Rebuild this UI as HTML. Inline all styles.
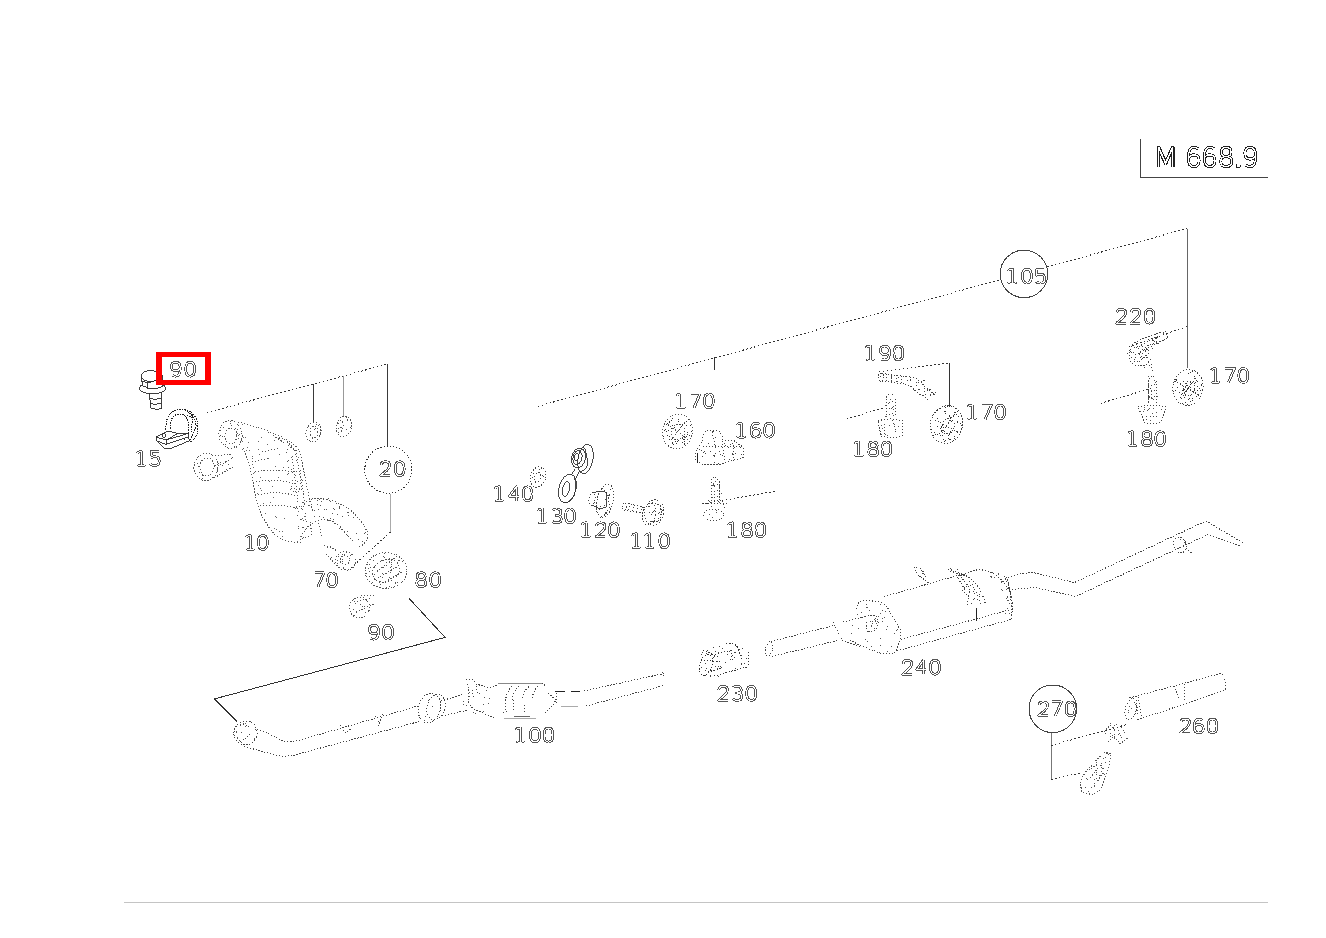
<!DOCTYPE html>
<html><head><meta charset="utf-8"><style>
html,body{margin:0;padding:0;background:#fff;width:1326px;height:938px;overflow:hidden}
svg{display:block}
.d{fill:none;stroke-width:1;stroke-dasharray:1.6 2.4}
.dd{fill:none;stroke-width:1;stroke-dasharray:1.2 2}
.s{fill:none;stroke-width:1}
.p{fill:none;stroke-width:1;stroke-dasharray:1.3 1.7}
</style></head><body>
<svg width="1326" height="938" viewBox="0 0 1326 938" shape-rendering="crispEdges">
<defs><path id="g0" d="M5.8 1.3 Q10.3 1.3 10.3 8.3 Q10.3 15.3 5.8 15.3 Q1.3 15.3 1.3 8.3 Q1.3 1.3 5.8 1.3 Z"/><path id="g1" d="M0.8 3.2 Q1 1.7 3 1.5 L4.6 1.3 V15.3 M1 14.2 Q1.2 15.3 2.6 15.3 H6.6 Q8 15.3 8.2 14.2"/><path id="g2" d="M1.5 4.6 Q1.8 1.3 5.8 1.3 Q10.2 1.3 10.2 5 Q10.2 7.4 7.2 10 L1.3 15.3 H10.3"/><path id="g3" d="M1.6 2.7 Q3 1.3 5.6 1.3 Q9.9 1.3 9.9 4.7 Q9.9 7.9 5.3 7.9 Q10.3 7.9 10.3 11.6 Q10.3 15.3 5.8 15.3 Q2.7 15.3 1.3 13.7"/><path id="g4" d="M8 15.3 V1.3 L1.3 10.6 H10.5"/><path id="g5" d="M9.8 1.3 H2.4 L2 7.6 Q3.8 6.4 6 6.4 Q10.3 6.4 10.3 10.8 Q10.3 15.3 5.8 15.3 Q2.8 15.3 1.3 13.6"/><path id="g6" d="M9.4 2.4 Q8.2 1.3 6 1.3 Q1.3 1.3 1.3 9 Q1.3 15.3 5.8 15.3 Q10.3 15.3 10.3 11 Q10.3 6.8 5.8 6.8 Q2.6 6.8 1.3 9.4"/><path id="g7" d="M1.3 1.3 H10.3 L4.3 15.3"/><path id="g8" d="M5.8 1.3 Q9.8 1.3 9.8 4.7 Q9.8 8 5.8 8 Q1.8 8 1.8 4.7 Q1.8 1.3 5.8 1.3 Z M5.8 8 Q10.3 8 10.3 11.65 Q10.3 15.3 5.8 15.3 Q1.3 15.3 1.3 11.65 Q1.3 8 5.8 8 Z"/><path id="g9" d="M2.2 14.2 Q3.4 15.3 5.6 15.3 Q10.3 15.3 10.3 7.6 Q10.3 1.3 5.8 1.3 Q1.3 1.3 1.3 5.6 Q1.3 9.8 5.8 9.8 Q9 9.8 10.3 7.2"/><path id="gM" d="M1.3 15.3 V1.3 L5.8 13 L10.3 1.3 V15.3"/><path id="gdot" d="M4.6 14.3 V15.3 H6 V14.3 Z"/></defs>
<g stroke="#333">
<!-- title box -->
<path class="s" d="M1140.5 139 V177.5 H1268" stroke="#444"/>
<!-- bottom rule -->
<line x1="124" y1="902.5" x2="1268" y2="902.5" stroke="#c4c4c4" stroke-width="1"/>
<!-- leader lines -->
<path class="d" d="M206.8 412.5 L388 364"/>
<path class="s" d="M313.6 384.4 V422.5 M387.5 364 V446.4" stroke="#3a3a3a"/><path class="s" d="M343.7 376.3 V416.2" stroke="#999"/>
<circle cx="388.4" cy="469.6" r="23.6" class="dd"/>
<path class="s" d="M390.5 494 V532" stroke="#aaa"/>
<path class="d" d="M390.5 532 L350.8 568"/>
<path class="s" d="M409.2 598.5 L445.1 637.4 L214.5 698.9 L236.8 721.5" stroke="#333"/>
<path class="d" d="M537.9 406.3 L1187.3 228.5"/>
<path class="s" d="M714.5 356.5 V369.8"/>
<circle cx="1024" cy="273.9" r="23.8" fill="#fff" stroke="#444" stroke-width="1"/>
<path class="s" d="M1187.3 228.5 V368.2" stroke="#666"/>
<path class="d" d="M1186.9 326.6 L1128 347"/>
<path class="d" d="M1100.5 403.4 L1150.6 388.5"/>
<path class="s" d="M949.7 363.1 V406.9"/>
<path class="d" d="M878.8 371.8 L949.7 363"/>
<path class="d" d="M846.7 418.8 L884.8 407.6"/>
<path class="d" d="M702 504 L775 491.3"/>
<circle cx="1052.8" cy="708.8" r="23.8" fill="#fff" stroke="#444" stroke-width="1"/>
<path class="s" d="M1051.2 732.7 V779.5" stroke="#777"/>
<path class="d" d="M1051 745.4 L1126.2 724.7"/>
<path class="d" d="M1051 779.5 L1081.4 772.8"/>

<!-- bolt 90 (top-left) -->
<g fill="#fff" stroke="#2a2a2a" stroke-width="0.9">
<path d="M149.5 392 L150.5 408 Q156 411 161.5 408.5 L161.5 391"/>
<path d="M150 398.5 Q156 400.5 161 398 M150.3 403.5 Q156 405.5 161.3 403" fill="none"/>
<ellipse cx="152.5" cy="388.2" rx="13.2" ry="5.5"/>
<path d="M141.5 377 L142.5 386 Q153 391.5 163 386 L162 375 Z"/>
<ellipse cx="150.5" cy="376" rx="9" ry="5.5"/>
<path d="M142 381 L147 383 L158 380 M147 383 L148 389" fill="none"/>
</g>
<!-- clamp 15 -->
<g fill="none" stroke="#222" stroke-width="1" stroke-dasharray="1.5 1">
<path d="M166 430 Q165 411 180 409 Q197 410 198 427 Q198 438 190 442"/>
<path d="M170 429 Q170 414 180 414 Q189 415 189 428 Q189 438 183 440"/>
<path d="M185 410.5 Q195 415 196 426 M187 415 L194 419 M190 440 L194 432 L197 424"/>
<path d="M193 414 L191 432"/>
</g>
<g fill="#fff" stroke="#2a2a2a" stroke-width="0.9">
<path d="M156 437 L156 440.5 L166 444.5 L188 437 L188 433.5 L178 433.5 Z"/>
<path d="M156 437 L168 431 L178 433.5 L166 440 Z"/>
<path d="M166 440 L188 433.5 M166 440 V444.5" fill="none"/>
<path d="M158 442 L164 448 L172 448 L190 440.5 L188 437" fill="none"/>
<circle cx="164" cy="435.5" r="1.7" fill="none"/>
</g>
<!-- nut left of 10 -->
<g class="p" stroke="#555">
<ellipse cx="206" cy="467" rx="12" ry="13.5" transform="rotate(10 206 467)"/>
<ellipse cx="207" cy="467" rx="7" ry="9" transform="rotate(10 207 467)"/>
<path d="M212 456 L232 454 M214 478 L233 467 M220 465 L233 458"/>
</g>
<!-- part 10 manifold -->
<g class="p" stroke="#555">
<ellipse cx="230.5" cy="434.5" rx="11.5" ry="14" transform="rotate(-10 230.5 434.5)"/>
<ellipse cx="231" cy="436" rx="6" ry="8"/>
<path d="M238 422 Q262 428 280 436 Q296 444 300 452 L308 492 L313 512"/>
<path d="M243 448 Q249 462 252 477 L257 503 Q262 520 275 535 Q288 544 302 542"/>
<path d="M268 432 L298 452 M279 437 Q289 441 296 452 L302 490"/>
<path d="M255 472 Q275 468 292 472 M256 482 Q276 478 294 484 M258 495 Q278 490 296 496 M260 506 Q280 504 298 508"/>
<path d="M262 452 L280 448 M252 462 L270 458"/>
<path d="M300 470 L305 505 M292 456 L298 500"/>
</g>
<!-- elbow -->
<g class="p" stroke="#555">
<path d="M302 510 Q305 500 312 499 Q330 497 348 508 Q362 520 368 532 Q368 543 359 547"/>
<path d="M300 540 Q306 525 315 522 Q328 516 339 526 Q348 536 356 545"/>
<path d="M310 522 L312 535 M318 520 L322 538"/>
</g>
<!-- small nuts hanging -->
<g class="p" stroke="#555">
<ellipse cx="313.5" cy="432" rx="7.5" ry="10" transform="rotate(10 313.5 432)"/>
<ellipse cx="314" cy="432" rx="4" ry="6"/>
<ellipse cx="344" cy="426.5" rx="7.5" ry="10.5" transform="rotate(10 344 426.5)"/>
<path d="M340 420 Q346 424 341 432"/>
</g>
<!-- 70 / 80 / 90 -->
<g class="p" stroke="#555">
<ellipse cx="345.5" cy="561" rx="10" ry="9" transform="rotate(20 345.5 561)"/>
<ellipse cx="345" cy="560" rx="5" ry="4.5"/>
<path d="M324 546 Q330 545 338 552 M326 554 L337 566"/>
<ellipse cx="386" cy="570.5" rx="21" ry="18"/>
<ellipse cx="386" cy="571" rx="14" ry="11" transform="rotate(-25 386 571)"/>
<path d="M372 575 L395 558 M375 580 L400 565 M380 585 L402 572"/>
<ellipse cx="359.5" cy="607.5" rx="10" ry="10.5" transform="rotate(20 359.5 607.5)"/>
<path d="M354 602 L372 598 M356 612 L374 604 M361 596 L374 595"/>
</g>

<!-- 140 washer -->
<g class="p" stroke="#444">
<ellipse cx="538" cy="477" rx="7.5" ry="10.5" transform="rotate(18 538 477)"/>
<ellipse cx="537.5" cy="477.5" rx="3" ry="5" transform="rotate(18 537.5 477.5)"/>
</g>
<!-- 130 double ring link (solid) -->
<g fill="none" stroke="#333" stroke-width="0.9">
<ellipse cx="585.5" cy="459" rx="7.5" ry="15" transform="rotate(10 585.5 459)"/>
<path d="M583 446 Q588 452 587 466 Q585 472 580 471"/>
<ellipse cx="578.5" cy="458" rx="7" ry="10" transform="rotate(12 578.5 458)"/>
<ellipse cx="577.5" cy="457.5" rx="4.5" ry="7" transform="rotate(12 577.5 457.5)"/>
<ellipse cx="576.5" cy="457" rx="2.2" ry="4" transform="rotate(12 576.5 457)"/>
<ellipse cx="567.5" cy="488.5" rx="8.5" ry="14.5" transform="rotate(15 567.5 488.5)"/>
<path d="M574 477 Q578 484 574 496 Q570 503 563 503"/>
<ellipse cx="566" cy="489" rx="3.5" ry="7.5" transform="rotate(15 566 489)"/>
<path d="M571 475 L575 469 M576 478 L579 472"/>
</g>
<!-- 120 -->
<g class="p" stroke="#444">
<ellipse cx="605" cy="501" rx="8" ry="17" transform="rotate(12 605 501)"/>
<path d="M602 488 Q610 494 609 508 Q606 516 600 517"/>
<ellipse cx="592" cy="499" rx="3" ry="6.3" transform="rotate(10 592 499)"/>
</g>
<g fill="none" stroke="#333" stroke-width="0.9">
<path d="M592 492.7 L602 491 L607 493 L606 507 L600 509 L592 505.3"/>
</g>
<!-- 110 bolt -->
<g class="p" stroke="#444">
<path d="M625 503 L646 508 M624 510 L645 514"/>
<ellipse cx="624.5" cy="506.5" rx="2.5" ry="3.5"/>
<path d="M629 503 Q631 507 628 511 M633 504 Q635 508 632 512 M637 505 Q639 509 636 513 M641 506 Q643 510 640 514"/>
<ellipse cx="654" cy="512.5" rx="9.5" ry="13" transform="rotate(10 654 512.5)"/>
<ellipse cx="649" cy="514" rx="6.5" ry="11" transform="rotate(10 649 514)"/>
<path d="M652 502 L660 505 L662 514 L658 522 L650 521"/>
</g>
<!-- 170 nut (mid) -->
<g class="p" stroke="#555">
<ellipse cx="677.5" cy="431.5" rx="15" ry="17.5" transform="rotate(15 677.5 431.5)"/>
<ellipse cx="678" cy="432" rx="6.5" ry="8" transform="rotate(15 678 432)"/>
<path d="M668 424 L688 440 M671 440 L685 422"/>
</g>
<!-- 160 bracket -->
<g class="p" stroke="#444">
<path d="M702 441 Q703 431 708 430.5 L718 430.5 Q722 433 723 440 L733 440 L743 447 L743 457.5 L719 464.5 L703 464.5 L695 460 L695 453 Z"/>
<path d="M703 446 L740 447 M712 432 L716 450 M722 441 L725 462 M733 445 L734 461"/>
</g>
<path d="M697.5 453 V462.5" stroke="#222" stroke-width="1.3" fill="none"/>
<!-- 180 screw (mid) -->
<g class="p" stroke="#444">
<path d="M714 477 L711 481 L711 500 M715 477 L719 481 L719 500"/>
<path d="M711 486 L719 484 M711 492 L719 490 M711 498 L719 496"/>
<path d="M702 503 L729 504 M708 500 L722 500 L725 508"/>
<ellipse cx="713.5" cy="515" rx="10" ry="6"/>
</g>

<!-- 190 L bolt -->
<g class="p" stroke="#444">
<ellipse cx="881" cy="377" rx="3" ry="3.8"/>
<path d="M882 373.5 L910 377 M882 381 L905 384"/>
<path d="M887 374 L886 381 M892 374.5 L891 382 M897 375 L896 383 M902 376 L901 383.5"/>
<path d="M910 377 Q918 377 924 386 L936 396 M905 384 Q912 386 918 393 L929 400"/>
<path d="M918 383 L925 380 M924 392 L931 389 M930 396 L936 392"/>
</g>
<!-- 170 nut (right1) -->
<g class="p" stroke="#444">
<ellipse cx="946.5" cy="424.5" rx="16" ry="19" transform="rotate(15 946.5 424.5)"/>
<ellipse cx="948" cy="426" rx="6" ry="8" transform="rotate(15 948 426)"/>
<path d="M935 420 L958 432 M940 436 L954 414"/>
</g>
<!-- 180 (right1) -->
<g class="p" stroke="#444">
<path d="M889 394 L886 398 V417 M892 394 L895 398 V417 M886 403 L895 401 M886 409 L895 407 M886 415 L895 413"/>
<path d="M878 421 Q890 417 903 421 L902 436 Q891 439 881 436 Z"/>
<path d="M884 430 L884 436 M892 420 L896 432"/>
</g>
<!-- 220 hose -->
<g class="p" stroke="#444">
<path d="M1164 332 Q1145 336 1133 344 Q1127 352 1131 362 Q1136 368 1146 365 L1152 358"/>
<path d="M1160 341 Q1146 345 1140 352 Q1139 358 1148 357"/>
<path d="M1136 348 L1160 335 M1135 355 L1158 343 M1139 362 L1150 352"/>
<path d="M1165 331 L1168 338 L1160 342"/>
<path d="M1151 364 L1153 372"/>
</g>
<!-- 170 nut (right2) -->
<g class="p" stroke="#444">
<ellipse cx="1188" cy="387.5" rx="15" ry="18" transform="rotate(10 1188 387.5)"/>
<ellipse cx="1189" cy="388.5" rx="5.5" ry="7.5" transform="rotate(10 1189 388.5)"/>
<path d="M1177 382 L1199 395 M1181 399 L1196 377"/>
</g>
<!-- 180 (right2) -->
<g class="p" stroke="#444">
<path d="M1152 376 L1148 380 V404 M1153 376 L1156 380 V404 M1148 386 L1156 384 M1148 392 L1156 390 M1148 398 L1156 396"/>
<path d="M1138 407 Q1152 403 1166 407 L1161 422 Q1152 425 1145 423 Z"/>
<path d="M1146 416 L1146 422 M1150 416 L1157 416"/>
</g>

<!-- front pipe (100) -->
<g class="p" stroke="#444">
<ellipse cx="245.5" cy="733" rx="11.5" ry="12" transform="rotate(20 245.5 733)"/>
<path d="M237 725 Q244 722 250 728 M240 742 Q247 738 252 732"/>
<path d="M257 729 Q272 735 283 741 Q290 743 300 740 L418 706"/>
<path d="M244 746 Q262 752 280 756 Q290 757 302 753 L421 721"/>
<path d="M340 725 L345 733 L352 728 M375 716 L380 724 M383 714 L378 726"/>
<ellipse cx="429.5" cy="708" rx="11" ry="15" transform="rotate(15 429.5 708)"/>
<ellipse cx="436" cy="707" rx="9" ry="13" transform="rotate(15 436 707)"/>
<path d="M441 701 L464 694 M442 716 L468 710"/>
</g>
<!-- converter -->
<g class="p" stroke="#444">
<path d="M466 680 L472 679 L476 684 L490 688 L497 685"/>
<path d="M467 684 Q470 692 468 700 Q470 708 476 710 L490 716 L494 718"/>
<path d="M472 690 L474 698 M476 686 L478 694"/>
<path d="M541.6 683 L546 686 M548 693 L556 700 L552 706 L545 713 M556 693 L556 705"/>
<path d="M505 704 Q506 692 512 686 M512 700 Q514 690 520 685 M522 698 Q524 690 530 686 M532 698 Q534 690 538 686"/>
<path d="M505 703 V712 M513 700 V712 M524 705 V712 M503 712.5 L508 711"/>
</g>
<g fill="none" stroke-width="1">
<path d="M498.4 683 H541.6" stroke="#888"/>
<path d="M504.3 718.8 H535.7" stroke="#aaa"/>
<path d="M514 716 H530" stroke="#666"/>
</g>
<path d="M555 691.5 H565 M571 691.5 H580" stroke="#222" stroke-width="1.2" fill="none"/>
<path d="M561 706.5 H578" stroke="#aaa" stroke-width="1" fill="none"/>
<g class="p" stroke="#444">
<path d="M584 691 L664 673.5 M586 706 L664 685.5 M662 672 L664 677"/>
</g>
<!-- 230 clamp -->
<g class="p" stroke="#333">
<ellipse cx="706" cy="665" rx="6" ry="11" transform="rotate(15 706 665)"/>
<path d="M712 655 L728 651 M714 676 L747 667 M748 652 L749 667"/>
<path d="M726 644 Q735 642 738 648 L742 660 M730 650 L733 660"/>
<path d="M703 650 L718 657 M704 660 L720 662 M708 672 L722 668"/>
</g>
<!-- muffler inlet pipe -->
<g class="p" stroke="#444">
<ellipse cx="769" cy="649" rx="3.5" ry="7.5" transform="rotate(15 769 649)"/>
<path d="M771 641.5 L834 625.4 M772 656.5 L838 640.4"/>
<path d="M833 622 L842 640 M843 622 L862.6 617 M842 640 L859.4 646.8"/>
<path d="M862 618 Q870 613 877 617 Q880 624 876 630 L868 632"/>
<path d="M866 622 L867 631 L870 632"/>
</g>
<!-- muffler body -->
<g class="p" stroke="#444">
<path d="M856 609 Q858 600 865 600 L880 602 Q886 604 889 610.5 L901 631 Q900 645 894.6 653 L880 653 L860.5 645.7 L848.8 639.3"/>
<path d="M884 596.7 L980 569"/>
<path d="M896.8 651 L1011 619.5"/>
<path d="M901 639.3 L1011 609.5"/>
<path d="M979 569 Q1000 572 1010 592 Q1014 604 1011 619"/>
<path d="M1006 577 Q1012 590 1011 610"/>
<path d="M914 567 L918 575 L929 583 M920 568 L926 578"/>
<path d="M948 569 Q962 574 970 590 L967 606 M955 571 Q972 576 980 590 L986 603 M950 571 L962 575"/>
<path d="M958 578 L965 590 M962 590 L970 598 M972 584 L979 598"/>
</g>
<path d="M976 608 V620.5" stroke="#222" stroke-width="1" fill="none"/>
<!-- tailpipe -->
<g class="p" stroke="#444">
<path d="M1008 577.5 Q1022 572 1035 573 L1074.5 582.5 L1206 521 L1245 544"/>
<path d="M1012 589.5 L1035 587.5 L1075.5 596.5 L1208 534.5 L1240 546"/>
<path d="M1004 576 Q1010 585 1011 600"/>
<ellipse cx="1180" cy="545" rx="6" ry="8" transform="rotate(-20 1180 545)"/>
<path d="M1186 548 L1193 554"/>
</g>
<!-- 260 tail tip -->
<g class="p" stroke="#444">
<path d="M1129.5 698 L1221.5 673.3 Q1227 680 1225 690 L1136 720.5"/>
<ellipse cx="1131" cy="709" rx="5.5" ry="11" transform="rotate(15 1131 709)"/>
<path d="M1138 697 L1142 718 M1134 702 Q1140 710 1136 716"/>
<path d="M1174 686 L1180 700 M1184 684 L1185 700"/>
</g>
<!-- 270 parts -->
<g class="p" stroke="#555">
<path d="M1104 732 L1110 725 L1114 729 M1116 724 L1122 728 L1126 735 M1108 742 L1114 736 L1120 744 L1128 738"/>
<path d="M1110 733 L1116 740 M1118 730 L1122 738"/>
<path d="M1080 783 Q1084 772 1092 765 L1104 752 L1111 754 L1108 770 Q1104 782 1100 790 L1092 795 L1082 792 Z"/>
<path d="M1090 778 L1103 762 M1094 786 L1104 772 M1086 772 L1098 764"/>
</g>

<path d="M236.5 447.5h0M237.5 433.5h0M238.5 435.5h0M242.5 424.5h0M242.5 441.5h0M242.5 449.5h0M243.5 437.5h0M245.5 437.5h0M246.5 450.5h0M247.5 447.5h0M248.5 442.5h0M249.5 450.5h0M252.5 456.5h0M252.5 458.5h0M252.5 464.5h0M253.5 467.5h0M253.5 473.5h0M254.5 472.5h0M257.5 493.5h0M258.5 441.5h0M258.5 449.5h0M258.5 485.5h0M259.5 454.5h0M260.5 477.5h0M260.5 488.5h0M261.5 437.5h0M261.5 490.5h0M263.5 470.5h0M263.5 503.5h0M265.5 513.5h0M266.5 522.5h0M267.5 444.5h0M268.5 458.5h0M269.5 481.5h0M270.5 502.5h0M272.5 486.5h0M273.5 497.5h0M274.5 440.5h0M274.5 528.5h0M275.5 466.5h0M275.5 516.5h0M276.5 517.5h0M276.5 529.5h0M278.5 470.5h0M278.5 477.5h0M279.5 454.5h0M279.5 531.5h0M281.5 440.5h0M282.5 531.5h0M282.5 536.5h0M283.5 467.5h0M284.5 518.5h0M287.5 474.5h0M288.5 494.5h0M290.5 489.5h0M291.5 457.5h0M292.5 480.5h0M293.5 491.5h0M294.5 483.5h0M296.5 506.5h0M297.5 541.5h0M298.5 457.5h0M298.5 511.5h0M298.5 526.5h0M300.5 480.5h0M300.5 536.5h0M301.5 506.5h0M301.5 519.5h0M302.5 518.5h0M304.5 516.5h0M305.5 516.5h0M305.5 519.5h0M309.5 505.5h0" stroke="#666" stroke-width="1" stroke-linecap="square" fill="none"/>
<path d="M197.5 463.5h0M198.5 466.5h0M199.5 472.5h0M200.5 462.5h0M201.5 460.5h0M202.5 460.5h0M202.5 475.5h0M202.5 478.5h0M203.5 475.5h0M212.5 477.5h0M214.5 465.5h0M215.5 465.5h0M217.5 470.5h0M217.5 471.5h0M218.5 463.5h0M220.5 430.5h0M220.5 435.5h0M220.5 462.5h0M222.5 436.5h0M222.5 465.5h0M223.5 427.5h0M225.5 444.5h0M226.5 461.5h0M226.5 469.5h0M227.5 447.5h0M228.5 464.5h0M229.5 428.5h0M229.5 454.5h0M230.5 421.5h0M230.5 423.5h0M231.5 425.5h0M232.5 457.5h0M234.5 446.5h0M235.5 428.5h0M235.5 439.5h0M236.5 731.5h0M236.5 732.5h0M237.5 429.5h0M237.5 433.5h0M237.5 737.5h0M237.5 738.5h0M238.5 438.5h0M239.5 434.5h0M239.5 740.5h0M240.5 725.5h0M241.5 440.5h0M241.5 732.5h0M241.5 742.5h0M243.5 723.5h0M245.5 723.5h0M245.5 726.5h0M250.5 721.5h0M254.5 738.5h0M255.5 729.5h0M279.5 438.5h0M281.5 441.5h0M286.5 452.5h0M287.5 449.5h0M287.5 461.5h0M288.5 460.5h0M288.5 467.5h0M288.5 473.5h0M291.5 469.5h0M291.5 486.5h0M291.5 488.5h0M292.5 472.5h0M293.5 471.5h0M293.5 491.5h0M294.5 488.5h0M294.5 507.5h0M295.5 454.5h0M295.5 475.5h0M295.5 491.5h0M295.5 508.5h0M296.5 460.5h0M296.5 471.5h0M297.5 481.5h0M297.5 501.5h0M297.5 508.5h0M297.5 515.5h0M298.5 491.5h0M298.5 528.5h0M299.5 488.5h0M299.5 489.5h0M299.5 506.5h0M300.5 519.5h0M301.5 508.5h0M302.5 480.5h0M302.5 502.5h0M302.5 527.5h0M302.5 538.5h0M303.5 493.5h0M303.5 502.5h0M303.5 520.5h0M303.5 527.5h0M303.5 537.5h0M304.5 500.5h0M304.5 504.5h0M305.5 513.5h0M305.5 529.5h0M305.5 537.5h0M306.5 521.5h0M308.5 426.5h0M308.5 505.5h0M308.5 536.5h0M309.5 501.5h0M312.5 438.5h0M313.5 426.5h0M314.5 429.5h0M314.5 510.5h0M314.5 516.5h0M315.5 428.5h0M316.5 424.5h0M317.5 500.5h0M317.5 504.5h0M318.5 425.5h0M318.5 509.5h0M319.5 435.5h0M319.5 499.5h0M319.5 516.5h0M320.5 427.5h0M320.5 430.5h0M320.5 505.5h0M321.5 501.5h0M323.5 498.5h0M323.5 517.5h0M324.5 509.5h0M326.5 509.5h0M327.5 499.5h0M327.5 547.5h0M328.5 498.5h0M328.5 520.5h0M330.5 501.5h0M330.5 518.5h0M331.5 557.5h0M332.5 513.5h0M333.5 508.5h0M333.5 519.5h0M334.5 509.5h0M334.5 523.5h0M335.5 562.5h0M336.5 430.5h0M336.5 503.5h0M337.5 514.5h0M337.5 524.5h0M337.5 560.5h0M337.5 563.5h0M338.5 423.5h0M338.5 428.5h0M338.5 432.5h0M338.5 556.5h0M339.5 506.5h0M339.5 507.5h0M339.5 508.5h0M339.5 528.5h0M340.5 420.5h0M340.5 427.5h0M340.5 526.5h0M340.5 559.5h0M341.5 427.5h0M342.5 421.5h0M342.5 516.5h0M342.5 554.5h0M342.5 559.5h0M342.5 561.5h0M343.5 567.5h0M343.5 568.5h0M344.5 554.5h0M345.5 569.5h0M346.5 417.5h0M346.5 429.5h0M347.5 419.5h0M347.5 420.5h0M347.5 512.5h0M347.5 531.5h0M347.5 535.5h0M348.5 512.5h0M348.5 515.5h0M348.5 569.5h0M349.5 608.5h0M350.5 427.5h0M350.5 555.5h0M353.5 517.5h0M353.5 599.5h0M353.5 609.5h0M354.5 615.5h0M355.5 603.5h0M356.5 533.5h0M356.5 612.5h0M357.5 601.5h0M358.5 539.5h0M359.5 610.5h0M360.5 604.5h0M362.5 541.5h0M362.5 606.5h0M364.5 533.5h0M364.5 606.5h0M365.5 529.5h0M365.5 532.5h0M365.5 575.5h0M365.5 612.5h0M366.5 573.5h0M366.5 600.5h0M367.5 564.5h0M368.5 568.5h0M369.5 564.5h0M369.5 571.5h0M369.5 576.5h0M370.5 559.5h0M370.5 567.5h0M372.5 582.5h0M373.5 560.5h0M374.5 566.5h0M374.5 574.5h0M375.5 555.5h0M380.5 581.5h0M381.5 560.5h0M382.5 573.5h0M382.5 577.5h0M383.5 556.5h0M383.5 567.5h0M384.5 553.5h0M384.5 557.5h0M385.5 559.5h0M386.5 562.5h0M386.5 565.5h0M386.5 587.5h0M386.5 588.5h0M389.5 558.5h0M389.5 577.5h0M389.5 586.5h0M390.5 567.5h0M390.5 572.5h0M391.5 562.5h0M391.5 564.5h0M391.5 566.5h0M391.5 569.5h0M393.5 587.5h0M395.5 582.5h0M395.5 583.5h0M396.5 556.5h0M397.5 582.5h0M398.5 560.5h0M399.5 557.5h0M399.5 560.5h0M401.5 572.5h0M401.5 582.5h0M402.5 561.5h0M406.5 573.5h0M419.5 715.5h0M424.5 720.5h0M425.5 716.5h0M431.5 719.5h0M432.5 706.5h0M434.5 695.5h0M463.5 701.5h0M463.5 704.5h0M466.5 705.5h0M468.5 687.5h0M468.5 689.5h0M468.5 701.5h0M469.5 692.5h0M469.5 696.5h0M473.5 712.5h0M475.5 713.5h0M479.5 693.5h0M483.5 704.5h0M483.5 711.5h0M484.5 697.5h0M486.5 690.5h0M488.5 703.5h0M489.5 698.5h0M709.5 501.5h0M709.5 509.5h0M709.5 514.5h0M711.5 500.5h0M711.5 502.5h0M711.5 506.5h0M712.5 485.5h0M712.5 497.5h0M712.5 517.5h0M713.5 483.5h0M713.5 484.5h0M713.5 485.5h0M714.5 486.5h0M714.5 494.5h0M715.5 481.5h0M716.5 510.5h0M716.5 512.5h0M719.5 486.5h0M719.5 488.5h0M719.5 497.5h0M719.5 502.5h0M721.5 493.5h0M851.5 633.5h0M852.5 625.5h0M857.5 614.5h0M858.5 628.5h0M861.5 612.5h0M864.5 616.5h0M865.5 639.5h0M866.5 604.5h0M866.5 607.5h0M866.5 626.5h0M867.5 607.5h0M867.5 641.5h0M869.5 610.5h0M870.5 621.5h0M871.5 625.5h0M871.5 626.5h0M871.5 631.5h0M871.5 646.5h0M872.5 621.5h0M872.5 623.5h0M874.5 619.5h0M874.5 628.5h0M875.5 618.5h0M875.5 620.5h0M875.5 621.5h0M876.5 623.5h0M877.5 621.5h0M878.5 616.5h0M879.5 652.5h0M880.5 604.5h0M880.5 613.5h0M880.5 638.5h0M880.5 645.5h0M881.5 425.5h0M881.5 434.5h0M882.5 428.5h0M882.5 610.5h0M882.5 618.5h0M882.5 621.5h0M884.5 424.5h0M884.5 427.5h0M884.5 617.5h0M885.5 405.5h0M885.5 416.5h0M885.5 434.5h0M885.5 611.5h0M886.5 397.5h0M886.5 416.5h0M886.5 629.5h0M887.5 435.5h0M887.5 626.5h0M887.5 651.5h0M888.5 403.5h0M889.5 425.5h0M890.5 399.5h0M891.5 408.5h0M891.5 646.5h0M893.5 406.5h0M893.5 409.5h0M893.5 415.5h0M894.5 424.5h0M894.5 633.5h0M896.5 630.5h0M897.5 629.5h0M898.5 426.5h0M982.5 570.5h0M990.5 576.5h0M991.5 576.5h0M991.5 577.5h0M992.5 572.5h0M994.5 577.5h0M998.5 573.5h0M998.5 574.5h0M1001.5 581.5h0M1001.5 582.5h0M1001.5 589.5h0M1002.5 590.5h0M1005.5 613.5h0M1006.5 589.5h0M1006.5 598.5h0M1007.5 596.5h0M1007.5 597.5h0M1007.5 600.5h0M1007.5 608.5h0M1008.5 600.5h0M1009.5 603.5h0M1009.5 613.5h0M1010.5 597.5h0M1011.5 605.5h0M1085.5 787.5h0M1086.5 778.5h0M1087.5 779.5h0M1088.5 791.5h0M1089.5 793.5h0M1091.5 766.5h0M1091.5 787.5h0M1094.5 779.5h0M1094.5 783.5h0M1094.5 786.5h0M1096.5 762.5h0M1096.5 772.5h0M1096.5 774.5h0M1096.5 778.5h0M1099.5 775.5h0M1100.5 765.5h0M1100.5 775.5h0M1101.5 765.5h0M1101.5 767.5h0M1101.5 771.5h0M1102.5 768.5h0M1103.5 758.5h0M1103.5 768.5h0M1104.5 774.5h0M1105.5 733.5h0M1105.5 757.5h0M1105.5 762.5h0M1106.5 753.5h0M1108.5 754.5h0M1110.5 723.5h0M1110.5 736.5h0M1113.5 727.5h0M1114.5 725.5h0M1114.5 729.5h0M1114.5 730.5h0M1114.5 734.5h0M1118.5 734.5h0M1119.5 743.5h0M1121.5 737.5h0M1126.5 738.5h0M1128.5 710.5h0M1128.5 712.5h0M1129.5 706.5h0M1131.5 708.5h0M1135.5 704.5h0M1136.5 706.5h0M1140.5 411.5h0M1143.5 411.5h0M1144.5 407.5h0M1144.5 409.5h0M1147.5 410.5h0M1148.5 376.5h0M1148.5 384.5h0M1148.5 409.5h0M1149.5 396.5h0M1149.5 397.5h0M1149.5 408.5h0M1150.5 420.5h0M1151.5 390.5h0M1151.5 394.5h0M1151.5 398.5h0M1152.5 398.5h0M1152.5 413.5h0M1153.5 399.5h0M1153.5 408.5h0M1154.5 380.5h0M1155.5 382.5h0M1156.5 412.5h0M1157.5 396.5h0M1161.5 409.5h0M1179.5 547.5h0M1180.5 539.5h0M1183.5 551.5h0M1184.5 540.5h0M1184.5 542.5h0" stroke="#555" stroke-width="1" stroke-linecap="square" fill="none"/>
<path d="M663.5 436.5h0M664.5 430.5h0M665.5 429.5h0M666.5 424.5h0M666.5 431.5h0M667.5 423.5h0M667.5 435.5h0M668.5 425.5h0M668.5 430.5h0M668.5 445.5h0M669.5 421.5h0M669.5 422.5h0M669.5 436.5h0M669.5 439.5h0M671.5 420.5h0M671.5 428.5h0M672.5 418.5h0M672.5 425.5h0M672.5 438.5h0M672.5 442.5h0M672.5 443.5h0M673.5 444.5h0M674.5 427.5h0M675.5 439.5h0M675.5 441.5h0M676.5 443.5h0M677.5 441.5h0M678.5 419.5h0M678.5 421.5h0M678.5 440.5h0M679.5 424.5h0M679.5 429.5h0M681.5 426.5h0M682.5 424.5h0M682.5 438.5h0M682.5 442.5h0M683.5 439.5h0M684.5 423.5h0M684.5 431.5h0M684.5 436.5h0M684.5 439.5h0M684.5 441.5h0M684.5 443.5h0M684.5 444.5h0M686.5 421.5h0M686.5 425.5h0M686.5 436.5h0M687.5 432.5h0M687.5 434.5h0M688.5 419.5h0M689.5 435.5h0M690.5 425.5h0M691.5 431.5h0M931.5 429.5h0M933.5 435.5h0M934.5 432.5h0M935.5 412.5h0M935.5 434.5h0M936.5 410.5h0M937.5 410.5h0M937.5 418.5h0M937.5 426.5h0M937.5 434.5h0M939.5 433.5h0M940.5 408.5h0M940.5 428.5h0M941.5 426.5h0M941.5 427.5h0M941.5 430.5h0M941.5 431.5h0M942.5 425.5h0M942.5 435.5h0M943.5 427.5h0M943.5 439.5h0M944.5 411.5h0M944.5 431.5h0M944.5 441.5h0M945.5 407.5h0M945.5 411.5h0M945.5 413.5h0M945.5 427.5h0M945.5 440.5h0M947.5 406.5h0M948.5 435.5h0M948.5 438.5h0M949.5 415.5h0M949.5 416.5h0M949.5 434.5h0M949.5 439.5h0M950.5 417.5h0M950.5 418.5h0M950.5 420.5h0M950.5 431.5h0M950.5 439.5h0M951.5 421.5h0M951.5 432.5h0M952.5 420.5h0M953.5 416.5h0M953.5 440.5h0M954.5 412.5h0M954.5 414.5h0M954.5 436.5h0M954.5 438.5h0M955.5 408.5h0M955.5 412.5h0M956.5 414.5h0M957.5 411.5h0M957.5 421.5h0M957.5 422.5h0M957.5 432.5h0M958.5 416.5h0M960.5 423.5h0M961.5 425.5h0M1175.5 379.5h0M1175.5 381.5h0M1175.5 390.5h0M1176.5 379.5h0M1176.5 380.5h0M1177.5 387.5h0M1179.5 392.5h0M1180.5 397.5h0M1181.5 394.5h0M1182.5 390.5h0M1182.5 393.5h0M1182.5 403.5h0M1183.5 381.5h0M1183.5 390.5h0M1184.5 389.5h0M1184.5 397.5h0M1185.5 391.5h0M1185.5 395.5h0M1185.5 402.5h0M1186.5 383.5h0M1186.5 385.5h0M1187.5 385.5h0M1187.5 389.5h0M1187.5 404.5h0M1188.5 373.5h0M1188.5 387.5h0M1188.5 388.5h0M1188.5 399.5h0M1189.5 398.5h0M1190.5 372.5h0M1190.5 382.5h0M1190.5 384.5h0M1190.5 387.5h0M1190.5 401.5h0M1191.5 383.5h0M1192.5 371.5h0M1192.5 391.5h0M1192.5 398.5h0M1192.5 400.5h0M1194.5 376.5h0M1194.5 383.5h0M1194.5 388.5h0M1195.5 382.5h0M1196.5 380.5h0M1196.5 396.5h0M1197.5 373.5h0M1197.5 381.5h0M1197.5 386.5h0M1197.5 390.5h0M1198.5 395.5h0M1199.5 388.5h0M1200.5 390.5h0M1201.5 378.5h0M1201.5 384.5h0M1201.5 385.5h0" stroke="#333" stroke-width="1" stroke-linecap="square" fill="none"/>
<path d="M532.5 477.5h0M533.5 473.5h0M539.5 469.5h0M541.5 468.5h0M542.5 475.5h0M543.5 476.5h0M599.5 509.5h0M600.5 506.5h0M604.5 505.5h0M605.5 499.5h0M605.5 512.5h0M605.5 513.5h0M608.5 495.5h0M608.5 497.5h0M609.5 494.5h0M609.5 495.5h0M610.5 489.5h0M611.5 485.5h0M612.5 488.5h0M648.5 506.5h0M649.5 506.5h0M649.5 512.5h0M651.5 500.5h0M651.5 514.5h0M652.5 512.5h0M653.5 511.5h0M653.5 522.5h0M654.5 510.5h0M654.5 520.5h0M658.5 513.5h0M658.5 518.5h0M659.5 512.5h0M660.5 514.5h0M660.5 519.5h0M662.5 510.5h0M663.5 513.5h0M699.5 449.5h0M701.5 450.5h0M701.5 654.5h0M701.5 667.5h0M702.5 456.5h0M702.5 652.5h0M703.5 452.5h0M704.5 451.5h0M705.5 453.5h0M705.5 663.5h0M705.5 670.5h0M705.5 675.5h0M706.5 653.5h0M706.5 668.5h0M707.5 650.5h0M708.5 443.5h0M708.5 672.5h0M710.5 451.5h0M710.5 675.5h0M710.5 676.5h0M712.5 431.5h0M713.5 431.5h0M713.5 455.5h0M713.5 647.5h0M713.5 657.5h0M713.5 670.5h0M714.5 455.5h0M714.5 456.5h0M714.5 462.5h0M714.5 656.5h0M715.5 437.5h0M715.5 445.5h0M715.5 453.5h0M715.5 651.5h0M715.5 666.5h0M717.5 661.5h0M717.5 668.5h0M718.5 463.5h0M718.5 652.5h0M718.5 666.5h0M718.5 676.5h0M719.5 451.5h0M719.5 646.5h0M720.5 454.5h0M720.5 666.5h0M721.5 667.5h0M722.5 455.5h0M722.5 648.5h0M724.5 443.5h0M724.5 651.5h0M725.5 445.5h0M725.5 662.5h0M727.5 654.5h0M728.5 447.5h0M729.5 459.5h0M729.5 651.5h0M730.5 444.5h0M730.5 650.5h0M730.5 659.5h0M731.5 650.5h0M732.5 443.5h0M732.5 453.5h0M732.5 454.5h0M732.5 655.5h0M734.5 447.5h0M734.5 652.5h0M734.5 657.5h0M735.5 453.5h0M735.5 652.5h0M735.5 668.5h0M736.5 646.5h0M738.5 444.5h0M739.5 649.5h0M740.5 447.5h0M741.5 454.5h0M741.5 655.5h0M741.5 663.5h0M741.5 664.5h0M742.5 457.5h0M742.5 648.5h0M744.5 663.5h0M745.5 667.5h0M746.5 658.5h0M880.5 376.5h0M880.5 381.5h0M891.5 376.5h0M897.5 381.5h0M898.5 377.5h0M905.5 376.5h0M907.5 380.5h0M910.5 379.5h0M910.5 380.5h0M913.5 389.5h0M914.5 390.5h0M916.5 382.5h0M916.5 385.5h0M916.5 567.5h0M918.5 389.5h0M919.5 389.5h0M919.5 576.5h0M920.5 576.5h0M921.5 570.5h0M922.5 573.5h0M923.5 395.5h0M923.5 571.5h0M924.5 388.5h0M924.5 574.5h0M925.5 394.5h0M930.5 394.5h0M950.5 568.5h0M951.5 569.5h0M955.5 571.5h0M957.5 569.5h0M957.5 573.5h0M957.5 577.5h0M959.5 573.5h0M960.5 575.5h0M961.5 574.5h0M961.5 575.5h0M963.5 575.5h0M964.5 575.5h0M964.5 587.5h0M966.5 586.5h0M967.5 584.5h0M968.5 577.5h0M968.5 596.5h0M969.5 581.5h0M969.5 591.5h0M970.5 585.5h0M971.5 603.5h0M973.5 591.5h0M973.5 599.5h0M974.5 593.5h0M974.5 598.5h0M977.5 599.5h0M979.5 594.5h0M979.5 596.5h0M979.5 600.5h0M980.5 603.5h0M984.5 602.5h0M1127.5 353.5h0M1129.5 350.5h0M1130.5 351.5h0M1131.5 352.5h0M1131.5 357.5h0M1133.5 352.5h0M1134.5 347.5h0M1134.5 359.5h0M1134.5 361.5h0M1135.5 357.5h0M1136.5 343.5h0M1137.5 346.5h0M1137.5 361.5h0M1138.5 348.5h0M1139.5 346.5h0M1139.5 354.5h0M1140.5 357.5h0M1142.5 346.5h0M1142.5 353.5h0M1142.5 358.5h0M1143.5 365.5h0M1144.5 349.5h0M1144.5 367.5h0M1145.5 350.5h0M1145.5 351.5h0M1147.5 349.5h0M1148.5 347.5h0M1148.5 350.5h0M1149.5 365.5h0M1152.5 340.5h0M1152.5 344.5h0M1152.5 348.5h0M1153.5 340.5h0M1154.5 341.5h0M1155.5 334.5h0M1155.5 338.5h0M1156.5 338.5h0M1156.5 341.5h0M1157.5 337.5h0M1158.5 343.5h0M1162.5 340.5h0M1163.5 332.5h0M1163.5 333.5h0M1164.5 339.5h0" stroke="#444" stroke-width="1" stroke-linecap="square" fill="none"/>

<!-- red highlight -->
<path d="M156 352 H211 V385 H156 Z M162 357 V380 H205 V357 Z" fill="#f00" fill-rule="evenodd" stroke="none"/>


</g>
<g>
<g fill="none" stroke="#555" stroke-width="2.8" stroke-linejoin="round"><use href="#g9" x="170.00" y="360.90"/><use href="#g0" x="184.40" y="360.90"/><use href="#g1" x="136.70" y="450.30"/><use href="#g5" x="148.90" y="450.30"/><use href="#g2" x="379.50" y="460.40"/><use href="#g0" x="393.90" y="460.40"/><use href="#g1" x="245.60" y="534.20"/><use href="#g0" x="257.10" y="534.20"/><use href="#g7" x="313.60" y="571.60"/><use href="#g0" x="326.40" y="571.60"/><use href="#g8" x="415.40" y="571.40"/><use href="#g0" x="429.40" y="571.40"/><use href="#g9" x="368.20" y="623.90"/><use href="#g0" x="382.20" y="623.90"/><use href="#g1" x="494.60" y="485.50"/><use href="#g4" x="508.20" y="485.50"/><use href="#g0" x="521.80" y="485.50"/><use href="#g1" x="537.70" y="507.60"/><use href="#g3" x="551.00" y="507.60"/><use href="#g0" x="564.30" y="507.60"/><use href="#g1" x="581.50" y="521.50"/><use href="#g2" x="594.80" y="521.50"/><use href="#g0" x="608.10" y="521.50"/><use href="#g1" x="631.80" y="532.50"/><use href="#g1" x="645.10" y="532.50"/><use href="#g0" x="658.40" y="532.50"/><use href="#g1" x="676.40" y="392.60"/><use href="#g7" x="689.70" y="392.60"/><use href="#g0" x="703.00" y="392.60"/><use href="#g1" x="736.70" y="421.90"/><use href="#g6" x="750.00" y="421.90"/><use href="#g0" x="763.30" y="421.90"/><use href="#g1" x="728.00" y="521.60"/><use href="#g8" x="741.30" y="521.60"/><use href="#g0" x="754.60" y="521.60"/><use href="#g1" x="865.70" y="344.70"/><use href="#g9" x="879.15" y="344.70"/><use href="#g0" x="892.60" y="344.70"/><use href="#g1" x="967.60" y="403.70"/><use href="#g7" x="981.00" y="403.70"/><use href="#g0" x="994.40" y="403.70"/><use href="#g1" x="854.20" y="440.60"/><use href="#g8" x="867.40" y="440.60"/><use href="#g0" x="880.60" y="440.60"/><use href="#g1" x="1007.70" y="267.80"/><use href="#g0" x="1021.10" y="267.80"/><use href="#g5" x="1034.50" y="267.80"/><use href="#g2" x="1115.40" y="307.90"/><use href="#g2" x="1129.55" y="307.90"/><use href="#g0" x="1143.70" y="307.90"/><use href="#g1" x="1210.80" y="367.20"/><use href="#g7" x="1224.15" y="367.20"/><use href="#g0" x="1237.50" y="367.20"/><use href="#g1" x="1128.00" y="430.40"/><use href="#g8" x="1141.20" y="430.40"/><use href="#g0" x="1154.40" y="430.40"/><use href="#g1" x="515.70" y="726.70"/><use href="#g0" x="529.20" y="726.70"/><use href="#g0" x="542.70" y="726.70"/><use href="#g2" x="717.30" y="685.10"/><use href="#g3" x="731.35" y="685.10"/><use href="#g0" x="745.40" y="685.10"/><use href="#g2" x="901.50" y="659.00"/><use href="#g4" x="915.35" y="659.00"/><use href="#g0" x="929.20" y="659.00"/><use href="#g2" x="1037.40" y="700.60"/><use href="#g7" x="1051.10" y="700.60"/><use href="#g0" x="1064.80" y="700.60"/><use href="#g2" x="1179.30" y="717.70"/><use href="#g6" x="1193.00" y="717.70"/><use href="#g0" x="1206.70" y="717.70"/></g><g fill="none" stroke="#fff" stroke-width="1.0"><use href="#g9" x="170.00" y="360.90"/><use href="#g0" x="184.40" y="360.90"/><use href="#g1" x="136.70" y="450.30"/><use href="#g5" x="148.90" y="450.30"/><use href="#g2" x="379.50" y="460.40"/><use href="#g0" x="393.90" y="460.40"/><use href="#g1" x="245.60" y="534.20"/><use href="#g0" x="257.10" y="534.20"/><use href="#g7" x="313.60" y="571.60"/><use href="#g0" x="326.40" y="571.60"/><use href="#g8" x="415.40" y="571.40"/><use href="#g0" x="429.40" y="571.40"/><use href="#g9" x="368.20" y="623.90"/><use href="#g0" x="382.20" y="623.90"/><use href="#g1" x="494.60" y="485.50"/><use href="#g4" x="508.20" y="485.50"/><use href="#g0" x="521.80" y="485.50"/><use href="#g1" x="537.70" y="507.60"/><use href="#g3" x="551.00" y="507.60"/><use href="#g0" x="564.30" y="507.60"/><use href="#g1" x="581.50" y="521.50"/><use href="#g2" x="594.80" y="521.50"/><use href="#g0" x="608.10" y="521.50"/><use href="#g1" x="631.80" y="532.50"/><use href="#g1" x="645.10" y="532.50"/><use href="#g0" x="658.40" y="532.50"/><use href="#g1" x="676.40" y="392.60"/><use href="#g7" x="689.70" y="392.60"/><use href="#g0" x="703.00" y="392.60"/><use href="#g1" x="736.70" y="421.90"/><use href="#g6" x="750.00" y="421.90"/><use href="#g0" x="763.30" y="421.90"/><use href="#g1" x="728.00" y="521.60"/><use href="#g8" x="741.30" y="521.60"/><use href="#g0" x="754.60" y="521.60"/><use href="#g1" x="865.70" y="344.70"/><use href="#g9" x="879.15" y="344.70"/><use href="#g0" x="892.60" y="344.70"/><use href="#g1" x="967.60" y="403.70"/><use href="#g7" x="981.00" y="403.70"/><use href="#g0" x="994.40" y="403.70"/><use href="#g1" x="854.20" y="440.60"/><use href="#g8" x="867.40" y="440.60"/><use href="#g0" x="880.60" y="440.60"/><use href="#g1" x="1007.70" y="267.80"/><use href="#g0" x="1021.10" y="267.80"/><use href="#g5" x="1034.50" y="267.80"/><use href="#g2" x="1115.40" y="307.90"/><use href="#g2" x="1129.55" y="307.90"/><use href="#g0" x="1143.70" y="307.90"/><use href="#g1" x="1210.80" y="367.20"/><use href="#g7" x="1224.15" y="367.20"/><use href="#g0" x="1237.50" y="367.20"/><use href="#g1" x="1128.00" y="430.40"/><use href="#g8" x="1141.20" y="430.40"/><use href="#g0" x="1154.40" y="430.40"/><use href="#g1" x="515.70" y="726.70"/><use href="#g0" x="529.20" y="726.70"/><use href="#g0" x="542.70" y="726.70"/><use href="#g2" x="717.30" y="685.10"/><use href="#g3" x="731.35" y="685.10"/><use href="#g0" x="745.40" y="685.10"/><use href="#g2" x="901.50" y="659.00"/><use href="#g4" x="915.35" y="659.00"/><use href="#g0" x="929.20" y="659.00"/><use href="#g2" x="1037.40" y="700.60"/><use href="#g7" x="1051.10" y="700.60"/><use href="#g0" x="1064.80" y="700.60"/><use href="#g2" x="1179.30" y="717.70"/><use href="#g6" x="1193.00" y="717.70"/><use href="#g0" x="1206.70" y="717.70"/></g><g fill="none" stroke="#222" stroke-width="2.4" stroke-linejoin="round"><use href="#gM" transform="translate(1156.60 145.6) scale(1.560 1.367)"/><use href="#g6" transform="translate(1186.70 145.6) scale(1.207 1.367)"/><use href="#g6" transform="translate(1202.60 145.6) scale(1.207 1.367)"/><use href="#g8" transform="translate(1219.20 145.6) scale(1.207 1.367)"/><use href="#gdot" transform="translate(1231.96 145.6) scale(1.207 1.367)"/><use href="#g9" transform="translate(1243.30 145.6) scale(1.207 1.367)"/></g><g fill="none" stroke="#fff" stroke-width="1.0"><use href="#gM" transform="translate(1156.60 145.6) scale(1.560 1.367)"/><use href="#g6" transform="translate(1186.70 145.6) scale(1.207 1.367)"/><use href="#g6" transform="translate(1202.60 145.6) scale(1.207 1.367)"/><use href="#g8" transform="translate(1219.20 145.6) scale(1.207 1.367)"/><use href="#gdot" transform="translate(1231.96 145.6) scale(1.207 1.367)"/><use href="#g9" transform="translate(1243.30 145.6) scale(1.207 1.367)"/></g>
</g>
</svg>
</body></html>
